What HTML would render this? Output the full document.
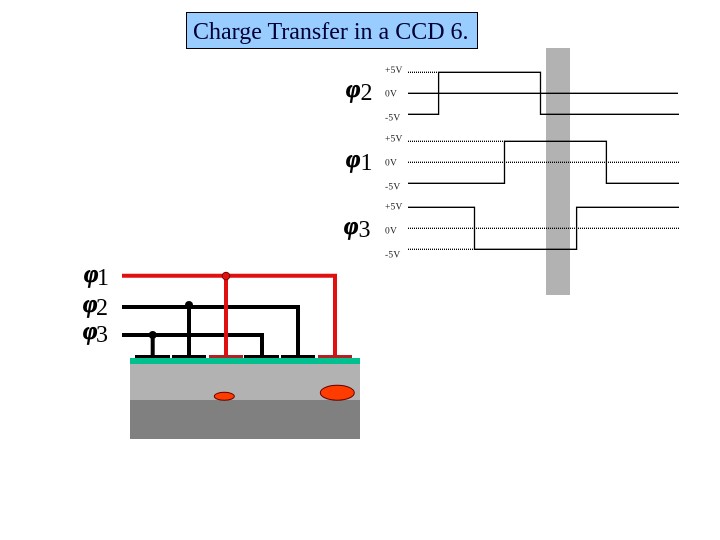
<!DOCTYPE html>
<html>
<head>
<meta charset="utf-8">
<style>
html,body{margin:0;padding:0;background:#fff;width:720px;height:540px;overflow:hidden}
svg{display:block}
.v{font-family:"Liberation Serif",serif;font-size:9.5px;fill:#222;letter-spacing:.2px}
.d{font-family:"Liberation Serif",serif;font-size:24px;fill:#000}
.p{font-family:"Liberation Serif",serif;font-size:25px;font-weight:bold;font-style:italic;fill:#000;stroke:#000;stroke-width:.7px}
</style>
</head>
<body>
<svg width="720" height="540" viewBox="0 0 720 540" xmlns="http://www.w3.org/2000/svg">
<rect width="720" height="540" fill="#fff"/>
<rect x="186.500" y="12.500" width="291" height="36" fill="#99ccff" stroke="#000" stroke-width="1"/>
<text x="193" y="39" font-family="'Liberation Serif',serif" font-size="24" fill="#000033">Charge Transfer in a CCD 6.</text>

<rect x="546" y="48" width="24" height="247" fill="#b2b2b2"/>

<g fill="none" stroke="#000" stroke-width="1.300">
<path d="M408 72.300H438" stroke-dasharray="1 1"/>
<path d="M408 114.300H438.600V72.300H540.500V114.300H679"/>
<path d="M408 93.300H678"/>
<path d="M408 141.300H505" stroke-dasharray="1 1"/>
<path d="M408 183.300H504.500V141.300H606.400V183.300H679"/>
<path d="M408 162.300H679" stroke-dasharray="1 1"/>
<path d="M408 207.300H474.500V249.300H576.600V207.300H679"/>
<path d="M408 228.300H679" stroke-dasharray="1 1"/>
<path d="M408 249.300H474" stroke-dasharray="1 1"/>
</g>

<text class="v" x="385" y="73">+5V</text>
<text class="v" x="385" y="96.500">0V</text>
<text class="v" x="385" y="120.500">-5V</text>
<text class="v" x="385" y="141.500">+5V</text>
<text class="v" x="385" y="165.500">0V</text>
<text class="v" x="385" y="189.500">-5V</text>
<text class="v" x="385" y="209.500">+5V</text>
<text class="v" x="385" y="233.500">0V</text>
<text class="v" x="385" y="257.500">-5V</text>

<text class="p" x="346" y="97">φ</text><text class="d" x="360.500" y="100">2</text>
<text class="p" x="346" y="167">φ</text><text class="d" x="360.500" y="170">1</text>
<text class="p" x="344" y="234">φ</text><text class="d" x="358.500" y="237">3</text>
<text class="p" x="84" y="282">φ</text><text class="d" x="97" y="285">1</text>
<text class="p" x="83" y="312">φ</text><text class="d" x="96" y="315">2</text>
<text class="p" x="83" y="339">φ</text><text class="d" x="96" y="342">3</text>

<g fill="none" stroke="#000" stroke-width="4">
<path d="M122 307H298V356"/>
<path d="M122 335H262V356"/>
<path d="M189 305V356"/>
<path d="M152.700 335V356"/>
</g>
<circle cx="189" cy="305" r="4" fill="#000"/>
<circle cx="152.700" cy="335" r="4" fill="#000"/>
<g fill="none" stroke="#e01010" stroke-width="4">
<path d="M122 275.700H335V356"/>
<path d="M226 276V356"/>
</g>
<circle cx="226" cy="276" r="3.800" fill="#e01010" stroke="#700" stroke-width="1"/>

<g fill="#000">
<rect x="135" y="355" width="35" height="3"/>
<rect x="172" y="355" width="34" height="3"/>
<rect x="244" y="355" width="35" height="3"/>
<rect x="281" y="355" width="34" height="3"/>
</g>
<g fill="#b22222">
<rect x="209" y="355" width="34" height="3"/>
<rect x="318" y="355" width="34" height="3"/>
</g>

<rect x="130" y="358" width="230" height="6" fill="#00c090"/>
<rect x="130" y="364" width="230" height="36" fill="#b2b2b2"/>
<rect x="130" y="400" width="230" height="39" fill="#808080"/>
<ellipse cx="224.300" cy="396.300" rx="10" ry="4" fill="#ff3c00" stroke="#600" stroke-width="1"/>
<ellipse cx="337.300" cy="392.700" rx="17" ry="7.500" fill="#ff3c00" stroke="#600" stroke-width="1"/>
</svg>
</body>
</html>
